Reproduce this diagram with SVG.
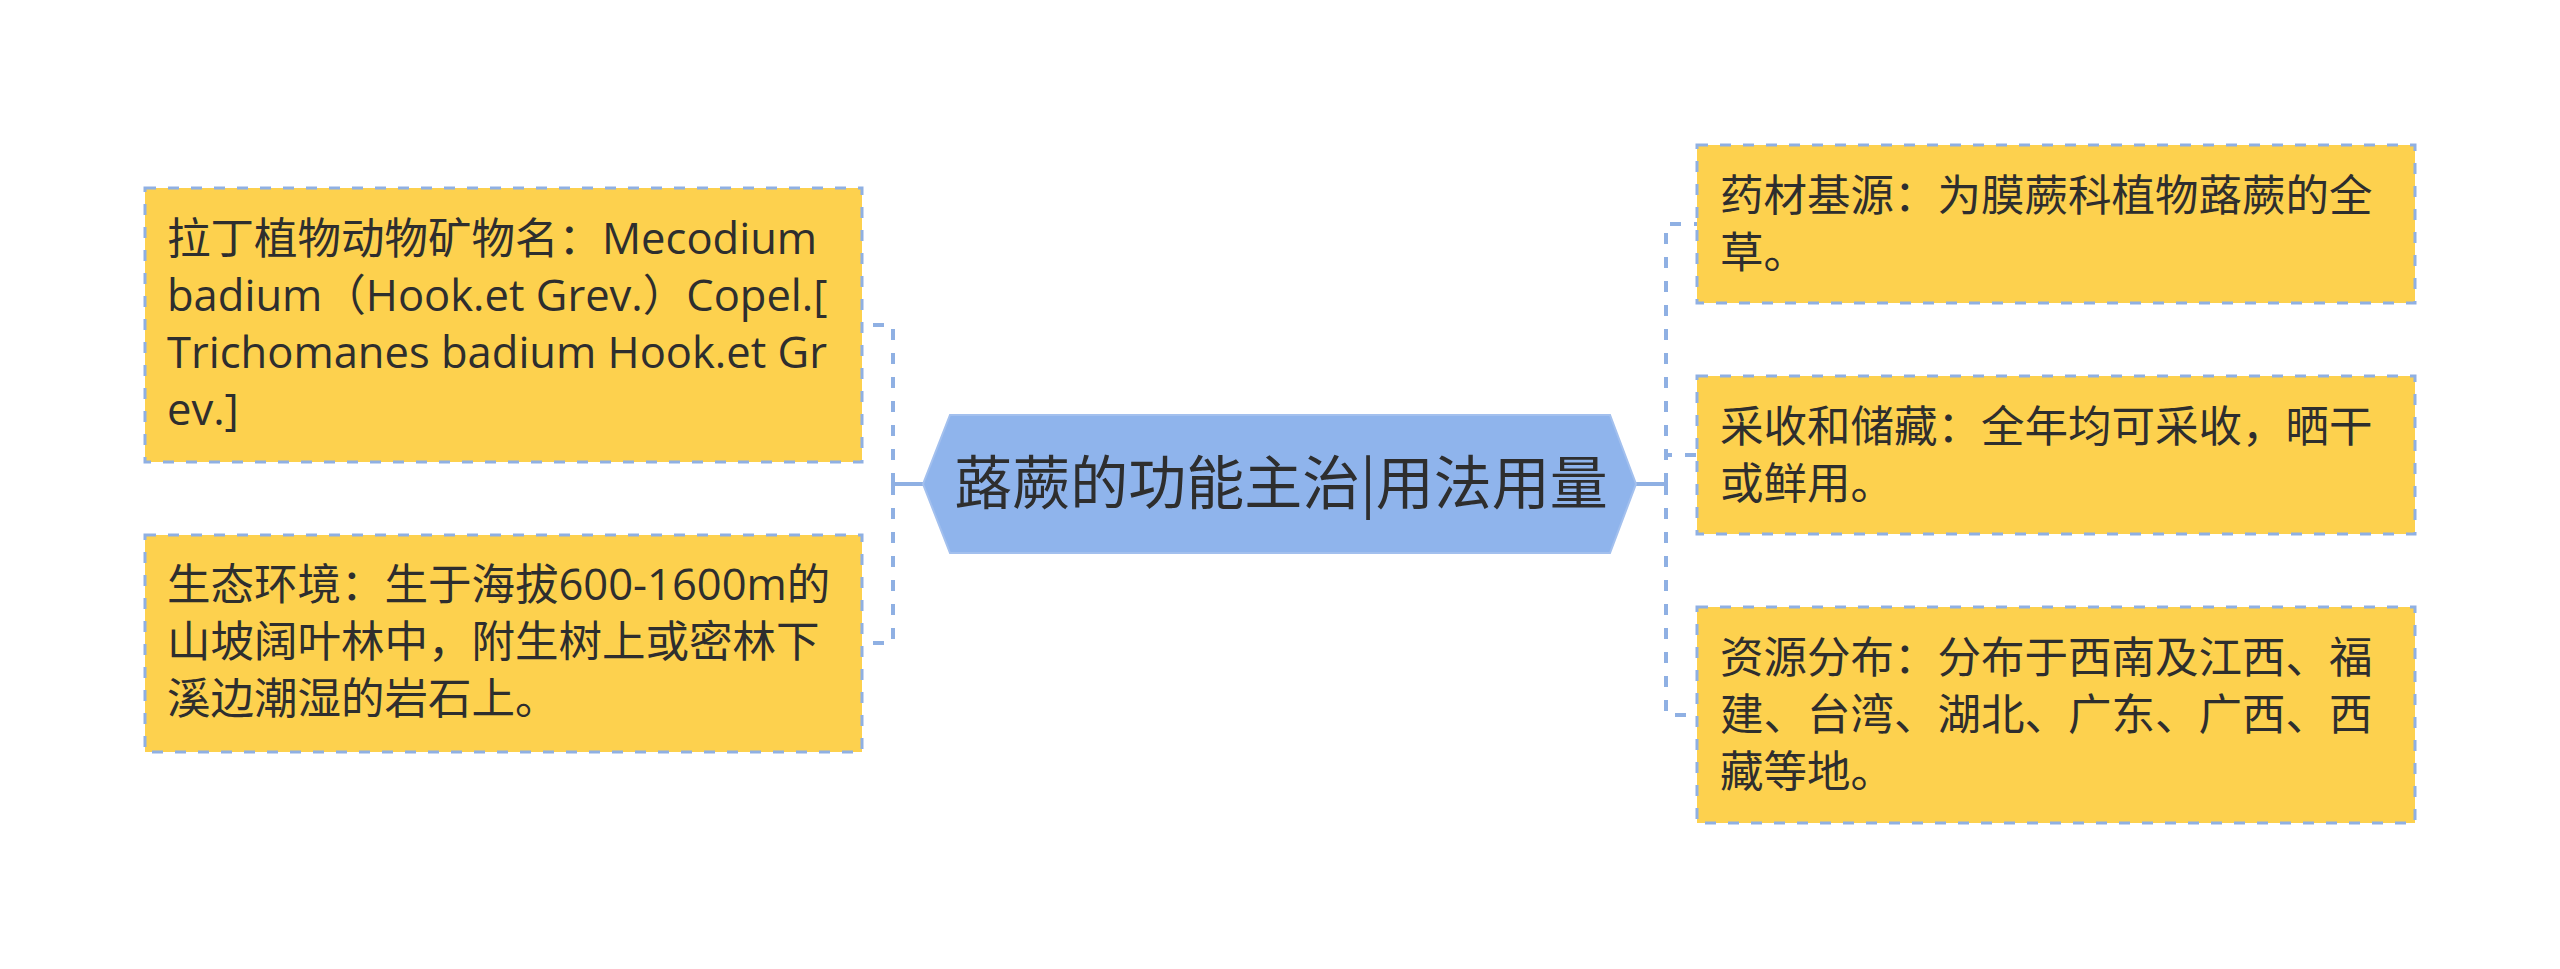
<svg xmlns="http://www.w3.org/2000/svg" width="2560" height="969" viewBox="0 0 2560 969">
<style>
.bg{fill:#ffffff}
.box{fill:#FDD14E;stroke:#8FB0E3;stroke-width:3;stroke-dasharray:11 12}
.t{font-family:"Open Sans","Noto Sans CJK SC",sans-serif;font-size:43.5px;fill:#2e2e2e}
.ct{font-family:"Noto Sans CJK SC","Open Sans",sans-serif;font-size:58px;fill:#2e2e2e}
.hex{fill:#8FB4EC;stroke:#A3C0EE;stroke-width:2}
.c{fill:none;stroke:#8FB0E3;stroke-width:4;stroke-dasharray:11 13}
.cs{fill:none;stroke:#8FB0E3;stroke-width:4}
</style>
<rect class="bg" x="0" y="0" width="2560" height="969"/>
<g id="connectors">
<path class="cs" d="M923,484 H893"/>
<path class="c" d="M893,484 V325 H862"/>
<path class="c" d="M893,484 V643 H862"/>
<path class="cs" d="M1636,484 H1666"/>
<path class="c" d="M1666,484 V224 H1697"/>
<path class="c" d="M1666,484 V455 H1697"/>
<path class="c" d="M1666,484 V715 H1697"/>
</g>
<g id="center">
<polygon class="hex" points="923,484 950,415 1610,415 1636,484 1610,553 950,553"/>
<text class="ct" x="1281" y="504" text-anchor="middle">蕗蕨的功能主治|用法用量</text>
</g>
<g id="left1">
<rect class="box" x="145" y="188" width="717" height="274"/>
<text class="t"><tspan x="167" y="254">拉丁植物动物矿物名：Mecodium</tspan><tspan x="167" y="311">badium（Hook.et Grev.）Copel.[</tspan><tspan x="167" y="368">Trichomanes badium Hook.et Gr</tspan><tspan x="167" y="425">ev.]</tspan></text>
</g>
<g id="left2">
<rect class="box" x="145" y="535" width="717" height="217"/>
<text class="t"><tspan x="167" y="600">生态环境：生于海拔600-1600m的</tspan><tspan x="167" y="657">山坡阔叶林中，附生树上或密林下</tspan><tspan x="167" y="714">溪边潮湿的岩石上。</tspan></text>
</g>
<g id="right1">
<rect class="box" x="1697" y="145" width="718" height="158"/>
<text class="t"><tspan x="1720" y="211">药材基源：为膜蕨科植物蕗蕨的全</tspan><tspan x="1720" y="268">草。</tspan></text>
</g>
<g id="right2">
<rect class="box" x="1697" y="376" width="718" height="158"/>
<text class="t"><tspan x="1720" y="442">采收和储藏：全年均可采收，晒干</tspan><tspan x="1720" y="499">或鲜用。</tspan></text>
</g>
<g id="right3">
<rect class="box" x="1697" y="607" width="718" height="216"/>
<text class="t"><tspan x="1720" y="673">资源分布：分布于西南及江西、福</tspan><tspan x="1720" y="730">建、台湾、湖北、广东、广西、西</tspan><tspan x="1720" y="787">藏等地。</tspan></text>
</g>
</svg>
